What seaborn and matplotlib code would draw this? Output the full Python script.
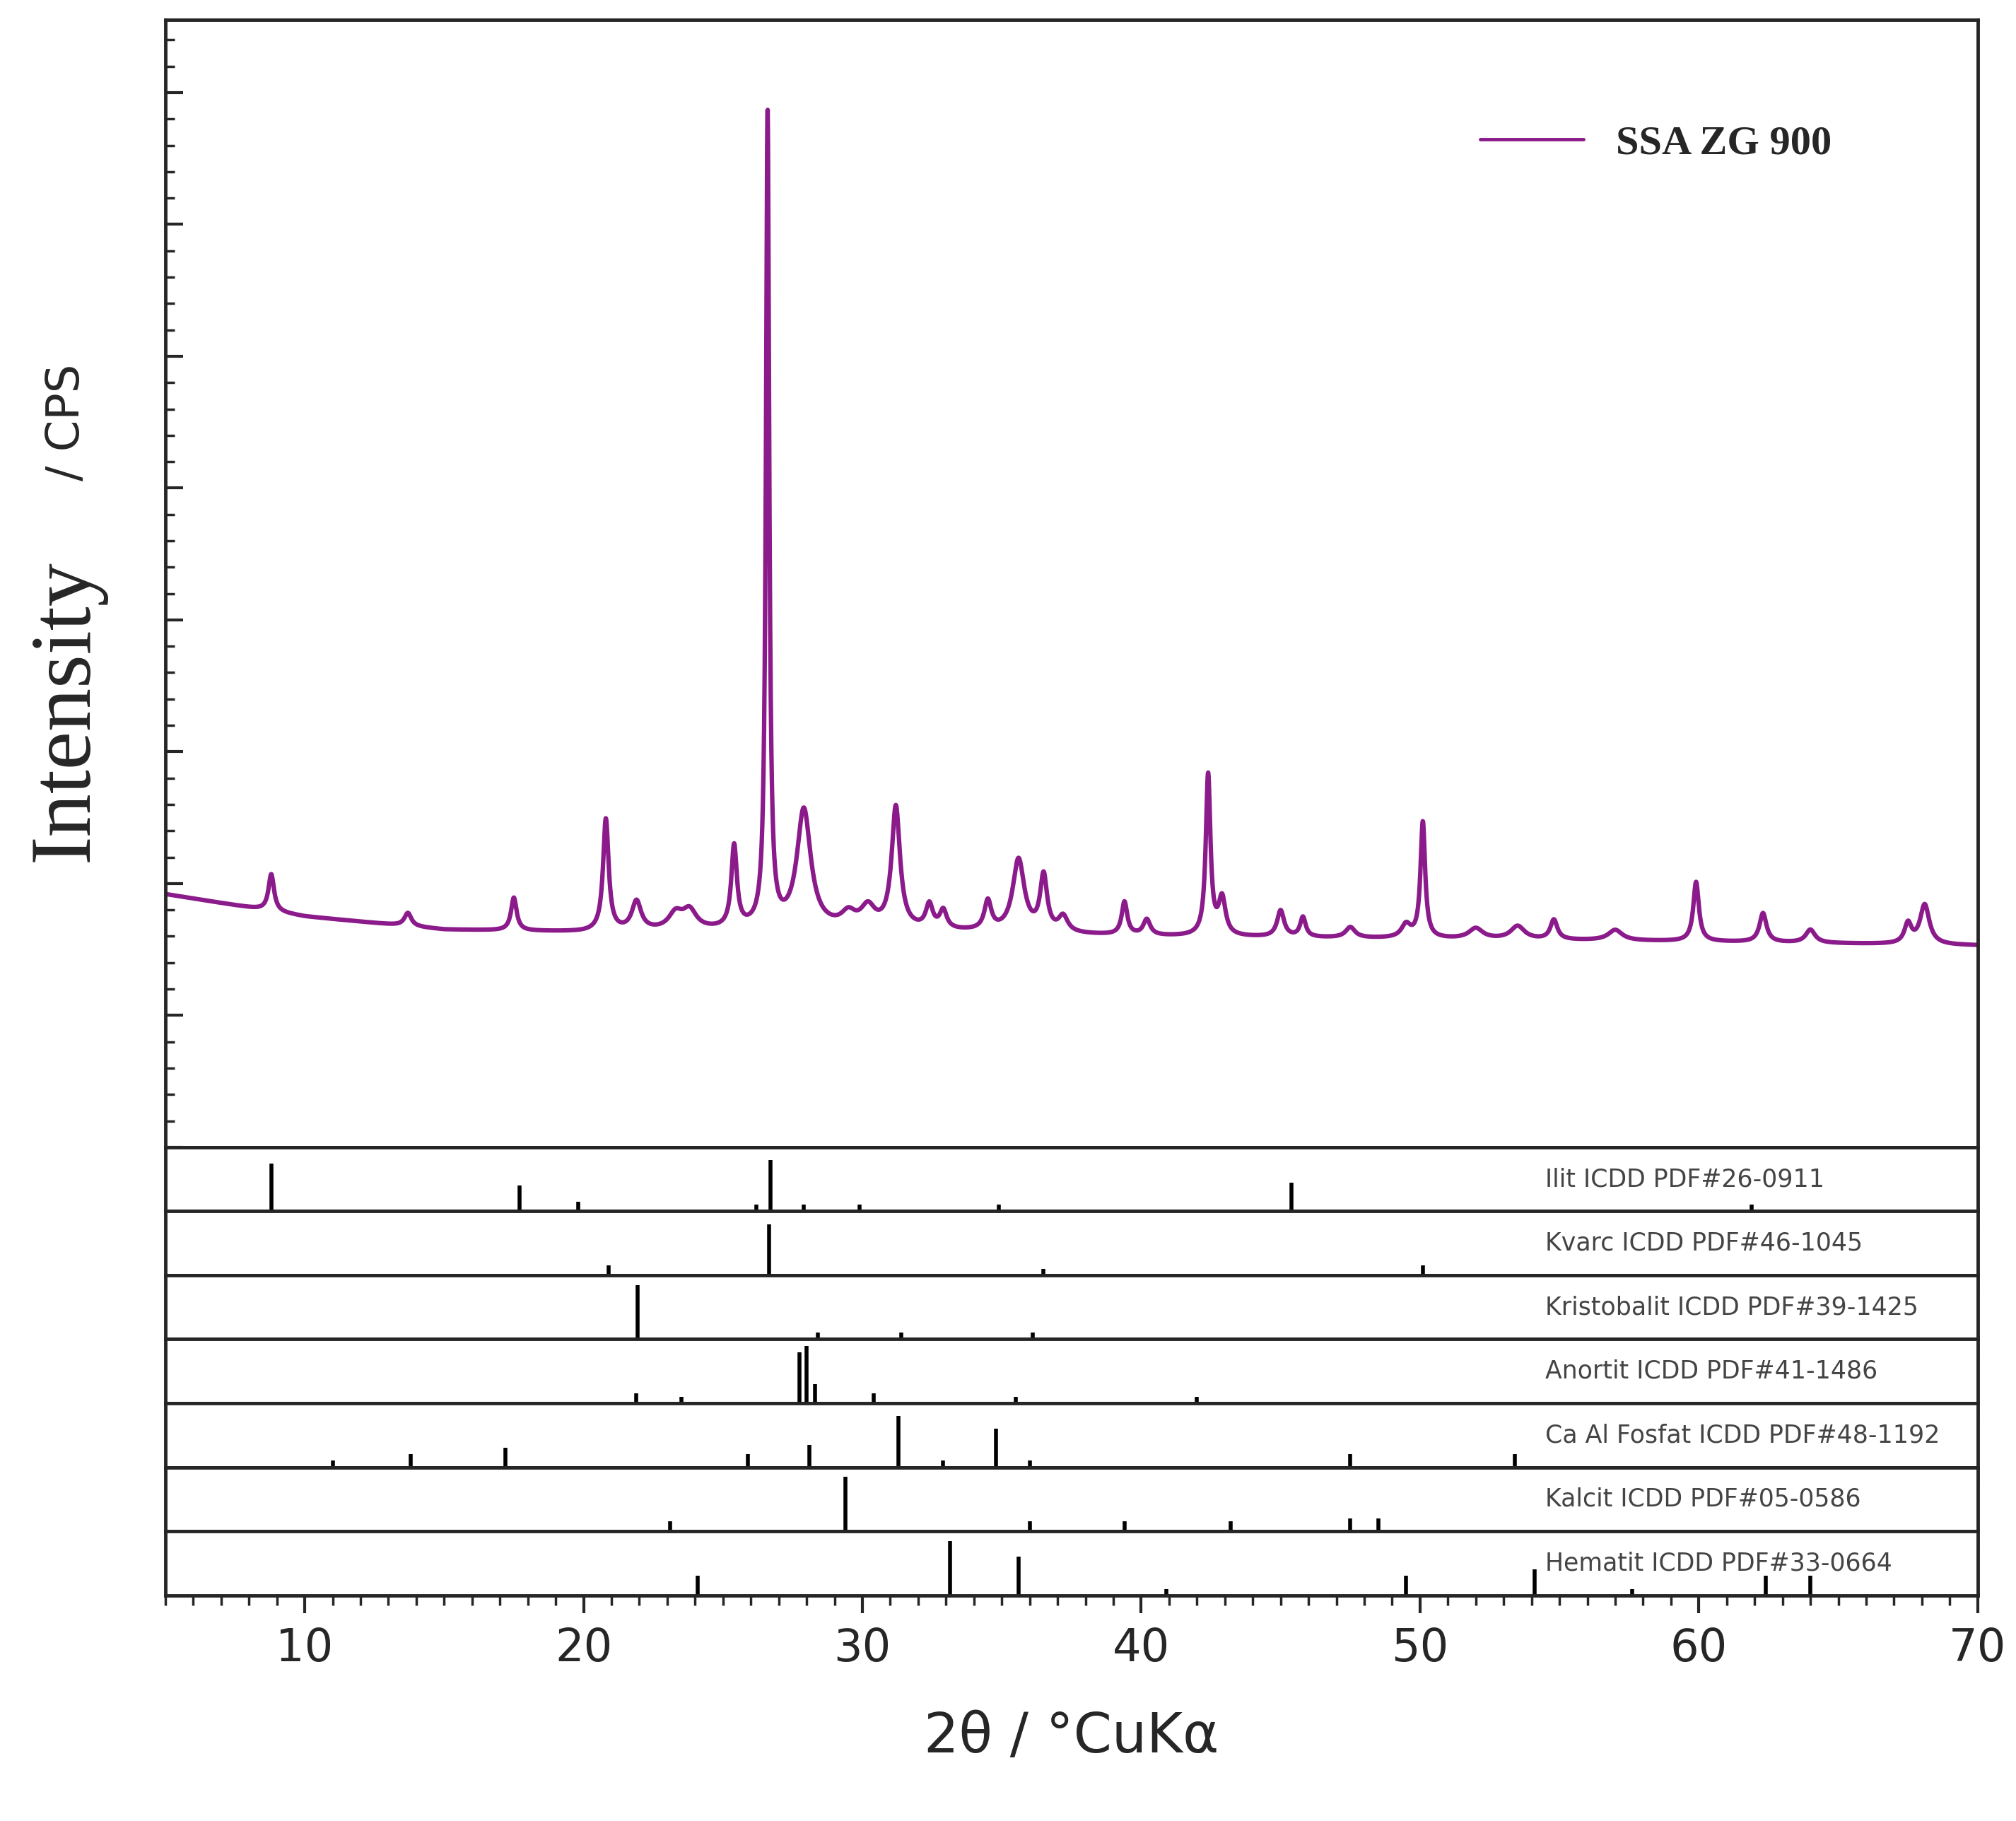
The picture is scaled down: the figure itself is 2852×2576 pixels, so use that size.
import numpy as np
import matplotlib
matplotlib.use("Agg")
import matplotlib.pyplot as plt
import seaborn as sns
from matplotlib.ticker import MultipleLocator

sns.set_style("ticks")
plt.rcParams['font.family'] = ['DejaVu Sans']

# --- data: XRD peaks of the sample (2theta, height above background) ---
peak_pos = [8.8, 13.7, 17.5, 20.8, 21.9, 23.3, 23.8, 25.4, 26.6, 27.9, 29.5, 30.2, 31.2, 32.4, 32.9,
            34.5, 35.6, 36.5, 37.2, 39.4, 40.2, 42.4, 42.9, 45.0, 45.8, 47.5, 49.5, 50.1, 52.0, 53.5,
            54.8, 57.0, 59.9, 62.3, 64.0, 67.5, 68.1]
peak_h = [28, 10, 25, 85, 22, 12, 14, 62, 620, 90, 10, 15, 92, 18, 14,
          22, 55, 42, 12, 25, 12, 122, 28, 20, 15, 8, 10, 88, 8, 10,
          15, 8, 45, 22, 10, 15, 30]
peak_w = [0.12, 0.15, 0.12, 0.12, 0.2, 0.3, 0.3, 0.12, 0.07, 0.3, 0.3, 0.3, 0.18, 0.15, 0.15,
          0.15, 0.25, 0.15, 0.2, 0.12, 0.15, 0.1, 0.15, 0.15, 0.12, 0.2, 0.2, 0.1, 0.3, 0.3,
          0.15, 0.3, 0.12, 0.15, 0.2, 0.15, 0.2]
bg_x = [5, 10, 15, 20, 30, 40, 50, 60, 70]
bg_y = [192, 175, 165, 163, 165, 160, 158, 156, 153]

# --- reference patterns (stick positions and relative heights) ---
phases = ["Ilit ICDD PDF#26-0911", "Kvarc ICDD PDF#46-1045", "Kristobalit ICDD PDF#39-1425",
          "Anortit ICDD PDF#41-1486", "Ca Al Fosfat ICDD PDF#48-1192", "Kalcit ICDD PDF#05-0586",
          "Hematit ICDD PDF#33-0664"]
stick_pos = [
    [8.8, 17.7, 19.8, 26.2, 26.7, 27.9, 29.9, 34.9, 45.4, 61.9],
    [20.9, 26.65, 36.5, 50.1],
    [21.95, 28.4, 31.4, 36.1],
    [21.9, 23.5, 27.75, 28.0, 28.3, 30.4, 35.5, 42.0],
    [11.0, 13.8, 17.2, 25.9, 28.1, 31.3, 32.9, 34.8, 36.0, 47.5, 53.4],
    [23.1, 29.4, 36.0, 39.4, 43.2, 47.5, 48.5],
    [24.1, 33.15, 35.6, 40.9, 49.5, 54.1, 57.6, 62.4, 64.0],
]
stick_h = [
    [0.75, 0.4, 0.15, 0.1, 0.8, 0.1, 0.1, 0.1, 0.45, 0.1],
    [0.15, 0.8, 0.1, 0.15],
    [0.85, 0.1, 0.1, 0.1],
    [0.15, 0.1, 0.8, 0.9, 0.3, 0.15, 0.1, 0.1],
    [0.1, 0.2, 0.3, 0.2, 0.35, 0.8, 0.1, 0.6, 0.1, 0.2, 0.2],
    [0.15, 0.85, 0.15, 0.15, 0.15, 0.2, 0.2],
    [0.3, 0.85, 0.6, 0.1, 0.3, 0.4, 0.1, 0.3, 0.3],
]

x = np.linspace(5, 70, 6000)
y = np.interp(x, bg_x, bg_y)
for p, h, w in zip(peak_pos, peak_h, peak_w):
    y = y + h / (1 + ((x - p) / w) ** 2)

fig = plt.figure(figsize=(28.52, 25.76), dpi=100)
L, R = 0.082, 0.981
top_main, bot_main, bot_all = 0.989, 0.370, 0.124
ax = fig.add_axes([L, bot_main, R - L, top_main - bot_main])
sns.lineplot(x=x, y=y, ax=ax, color="#8B1A8B", lw=4.5, label="SSA ZG 900")
ax.set_xlim(5, 70)
ax.set_ylim(0, 855)
ax.set_xticks([])
ax.yaxis.set_major_locator(MultipleLocator(100))
ax.yaxis.set_minor_locator(MultipleLocator(20))
ax.tick_params(axis='y', which='major', direction='in', length=18, width=3, labelleft=False)
ax.tick_params(axis='y', which='minor', direction='in', length=9, width=2.5)
for s in ax.spines.values():
    s.set_linewidth(3.5)
leg = ax.legend(loc="upper right", bbox_to_anchor=(0.94, 0.94), frameon=False,
                prop={'family': 'Liberation Serif', 'weight': 'bold', 'size': 42},
                handlelength=2.5)
for ln in leg.get_lines():
    ln.set_linewidth(3.5)
fig.text(0.033, 0.61, "Intensity", rotation=90, family="Liberation Serif", fontsize=88,
         ha="center", va="center")
fig.text(0.033, 0.768, "/ CPS", rotation=90, fontsize=46, ha="center", va="center")

ph = (bot_main - bot_all) / 7
for i, (name, sp, sh) in enumerate(zip(phases, stick_pos, stick_h)):
    a = fig.add_axes([L, bot_main - (i + 1) * ph, R - L, ph])
    a.vlines(sp, 0, sh, color="black", lw=4)
    a.set_xlim(5, 70)
    a.set_ylim(0, 1)
    a.set_yticks([])
    a.xaxis.set_major_locator(MultipleLocator(10))
    a.xaxis.set_minor_locator(MultipleLocator(1))
    a.tick_params(axis='x', which='major', direction='out', length=18, width=3,
                  labelbottom=(i == 6), labelsize=46, pad=14)
    a.tick_params(axis='x', which='minor', direction='out', length=10, width=2.5)
    for s in a.spines.values():
        s.set_linewidth(3.5)
    a.text(54.5, 0.5, name, fontsize=25, color="#444444", va="center", ha="left")
    if i == 6:
        a.set_xlabel("2θ / °CuKα", fontsize=56, labelpad=40)

fig.savefig("out.png", dpi=100)
